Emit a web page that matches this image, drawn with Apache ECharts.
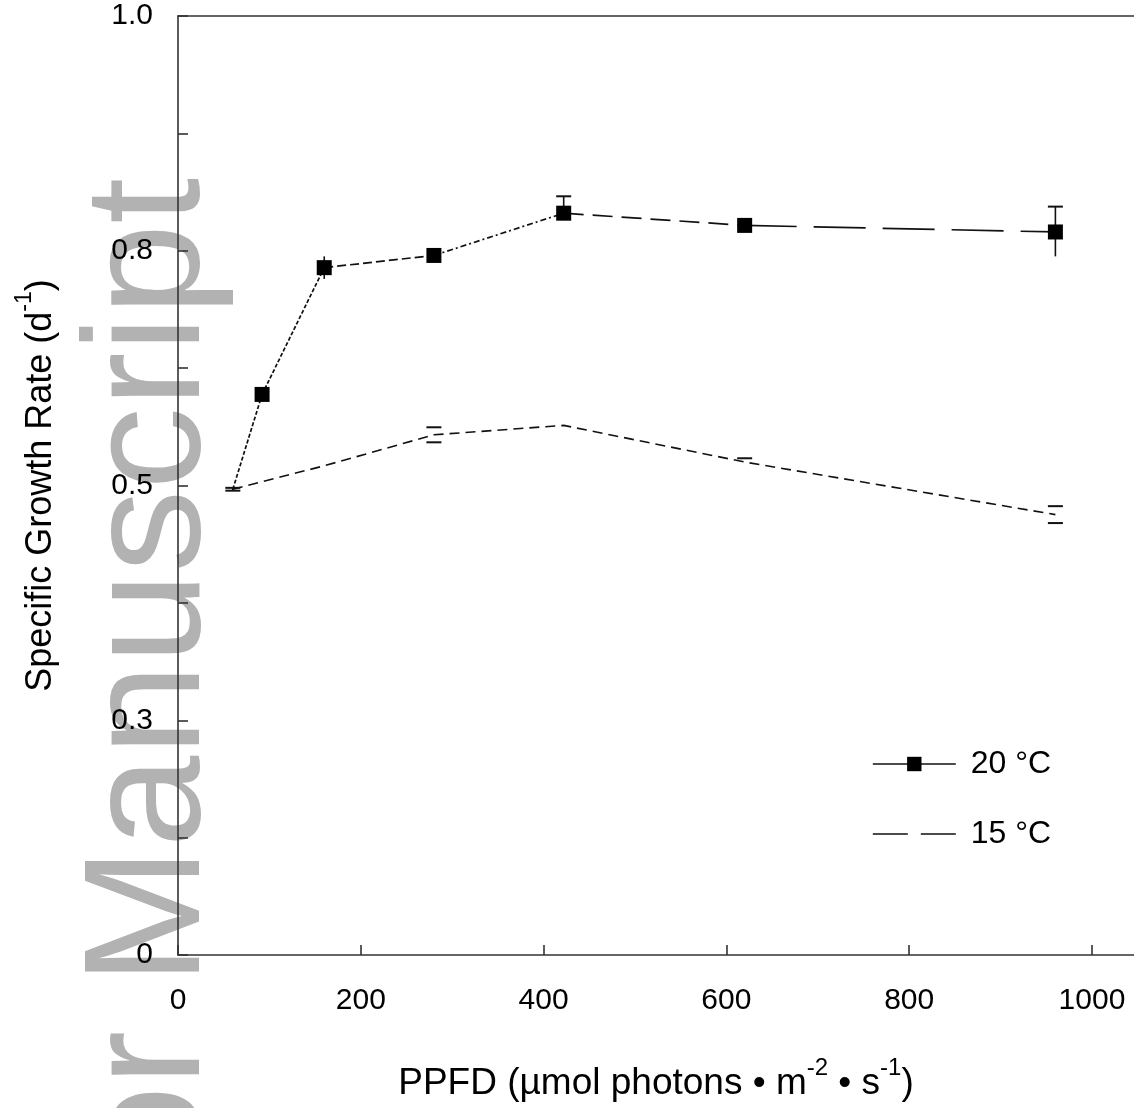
<!DOCTYPE html>
<html>
<head>
<meta charset="utf-8">
<script src="https://cdn.jsdelivr.net/npm/echarts@6/dist/echarts.min.js"></script>
<style>
  html, body { margin: 0; padding: 0; background: #fff; }
  #chart { width: 1134px; height: 1108px; }
</style>
</head>
<body>
<div id="chart"></div>
<script>
// Specific growth rate (d-1) versus PPFD at two temperatures, with error bars
const seriesNames = ['20 °C', '15 °C'];

const ppfd20 = [60, 92, 160, 280, 422, 620, 960];
const rate20 = [0.496, 0.597, 0.732, 0.745, 0.790, 0.777, 0.770];
const errUp20 = [0.0015, 0.007, 0.012, 0.007, 0.018, 0.005, 0.027];
const errDown20 = [0.0015, 0.007, 0.012, 0.007, 0.007, 0.005, 0.026];

const ppfd15 = [60, 160, 280, 422, 620, 960];
const rate15 = [0.496, 0.521, 0.554, 0.564, 0.525, 0.469];
const errUp15 = [0, 0, 0.008, 0, 0.004, 0.009];
const errDown15 = [0, 0, 0.008, 0, 0, 0.009];

const xTickValues = [0, 200, 400, 600, 800, 1000];
const xTickLabels = ['0', '200', '400', '600', '800', '1000'];
const yTickValues = [0, 0.125, 0.25, 0.375, 0.5, 0.625, 0.75, 0.875, 1.0];
const yLabelValues = [0, 0.25, 0.5, 0.75, 1.0];
const yTickLabels = ['0', '0.3', '0.5', '0.8', '1.0'];

// which error-bar ends carry a cap
const capTop20 = [true, false, false, false, true, false, true];
const capBot20 = [true, false, false, false, false, false, false];
// dash pattern of each 20 °C segment, left to right
const segDash20 = [[4, 2], [4, 2], [9, 4], [6, 3, 2, 3], [20, 9], [52, 17]];

const FONT = '"Liberation Sans", Arial, Helvetica, sans-serif';
const INK = '#111';
const AXIS = '#333';

function errorBars(xs, ys, up, down, withStem, capTop, capBot) {
  return {
    type: 'custom',
    coordinateSystem: 'cartesian2d',
    silent: true,
    z: 4,
    data: xs.map((x, i) => [x, ys[i], up[i], down[i], i]),
    renderItem(params, api) {
      const x = api.value(0), y = api.value(1);
      const u = api.value(2), d = api.value(3);
      const i = api.value(4);
      const top = api.coord([x, y + u]);
      const bot = api.coord([x, y - d]);
      const half = 7.5;
      const st = { stroke: INK, lineWidth: 2 };
      const children = [];
      if (withStem && (u || d)) {
        children.push({ type: 'line', shape: { x1: top[0], y1: top[1], x2: bot[0], y2: bot[1] }, style: { stroke: INK, lineWidth: 1.6 } });
      }
      if (u && (!capTop || capTop[i])) children.push({ type: 'line', shape: { x1: top[0] - half, y1: top[1], x2: top[0] + half, y2: top[1] }, style: st });
      if (d && (!capBot || capBot[i])) children.push({ type: 'line', shape: { x1: bot[0] - half, y1: bot[1], x2: bot[0] + half, y2: bot[1] }, style: st });
      return { type: 'group', children };
    }
  };
}

const series = [];

// markers of the 20 °C set (the lowest point has no marker)
series.push({
  name: seriesNames[0],
  type: 'line',
  z: 5,
  data: ppfd20.map((x, i) => [x, rate20[i]]),
  symbol: 'rect',
  symbolSize: (v, p) => (p.dataIndex === 0 ? 0 : 15),
  itemStyle: { color: '#000' },
  lineStyle: { width: 0, opacity: 0 }
});

// connecting line of the 20 °C set, segment by segment
for (let i = 0; i < ppfd20.length - 1; i++) {
  series.push({
    type: 'line',
    z: 3,
    silent: true,
    symbol: 'none',
    data: [[ppfd20[i], rate20[i]], [ppfd20[i + 1], rate20[i + 1]]],
    lineStyle: { color: INK, width: 1.7, type: segDash20[i] }
  });
}

series.push({
  name: seriesNames[1],
  type: 'line',
  z: 3,
  symbol: 'none',
  data: ppfd15.map((x, i) => [x, rate15[i]]),
  itemStyle: { color: INK },
  lineStyle: { color: INK, width: 1.6, type: [10, 6] }
});

series.push(errorBars(ppfd20, rate20, errUp20, errDown20, true, capTop20, capBot20));
series.push(errorBars(ppfd15, rate15, errUp15, errDown15, false, null, null));

const chart = echarts.init(document.getElementById('chart'), null, { renderer: 'canvas' });

function nameRich(size) {
  return {
    n: { fontSize: size, fontFamily: FONT, color: '#000', lineHeight: 46, verticalAlign: 'bottom' },
    s: { fontSize: Math.round(size * 0.64), fontFamily: FONT, color: '#000', lineHeight: 46, verticalAlign: 'top' }
  };
}

chart.setOption({
  animation: false,
  backgroundColor: '#fff',
  textStyle: { fontFamily: FONT },
  graphic: [{
    type: 'text',
    z: -10,
    silent: true,
    x: 153,
    y: 178,
    rotation: Math.PI / 2,
    style: {
      text: 'Author Manuscript',
      fontSize: 165,
      fontFamily: FONT,
      fill: '#b2b2b2',
      align: 'right',
      textAlign: 'right',
      verticalAlign: 'middle',
      textVerticalAlign: 'middle'
    }
  }],
  grid: {
    left: 178,
    top: 16,
    right: 0,
    height: 939,
    show: false
  },
  legend: {
    left: 867,
    top: 743,
    orient: 'vertical',
    itemWidth: 83,
    itemHeight: 18,
    itemGap: 38,
    selectedMode: false,
    textStyle: { fontSize: 32, color: '#000', fontFamily: FONT, padding: [0, 0, 0, 10] },
    data: [
      { name: seriesNames[0], lineStyle: { type: 'solid', width: 1.6, color: INK, opacity: 1 } },
      { name: seriesNames[1], lineStyle: { type: [35, 13], width: 1.6, color: INK }, itemStyle: { opacity: 0 } }
    ]
  },
  xAxis: [{
    type: 'value',
    min: 0,
    max: 1046,
    interval: 200,
    splitLine: { show: false },
    axisLine: { show: true, onZero: false, lineStyle: { color: AXIS, width: 1.6 } },
    axisTick: { show: true, inside: true, length: 10, customValues: xTickValues, lineStyle: { color: AXIS, width: 1.6 } },
    axisLabel: {
      customValues: xTickValues,
      formatter: v => xTickLabels[xTickValues.indexOf(v)] ?? '',
      fontSize: 30, color: '#000', fontFamily: FONT, margin: 31
    },
    name: '{n|PPFD (µmol photons • m}{s|-2}{n| • s}{s|-1}{n|)}',
    nameLocation: 'middle',
    nameGap: 101,
    nameTextStyle: { rich: nameRich(37) }
  }, {
    // top frame line
    type: 'value',
    position: 'top',
    min: 0,
    max: 1046,
    splitLine: { show: false },
    axisLine: { show: true, onZero: false, lineStyle: { color: AXIS, width: 1.6 } },
    axisTick: { show: false },
    axisLabel: { show: false }
  }],
  yAxis: {
    type: 'value',
    min: 0,
    max: 1,
    interval: 0.125,
    splitLine: { show: false },
    axisLine: { show: true, onZero: false, lineStyle: { color: AXIS, width: 1.6 } },
    axisTick: { show: true, inside: true, length: 10, customValues: yTickValues, lineStyle: { color: AXIS, width: 1.6 } },
    axisLabel: {
      customValues: yLabelValues,
      formatter: v => {
        const i = yLabelValues.findIndex(t => Math.abs(t - v) < 1e-9);
        return i >= 0 ? yTickLabels[i] : '';
      },
      fontSize: 30, color: '#000', fontFamily: FONT, margin: 25
    },
    name: '{n|Specific Growth Rate (d}{s|-1}{n|)}',
    nameLocation: 'middle',
    nameGap: 119,
    nameTextStyle: { rich: nameRich(36) }
  },
  series
});
</script>
</body>
</html>
